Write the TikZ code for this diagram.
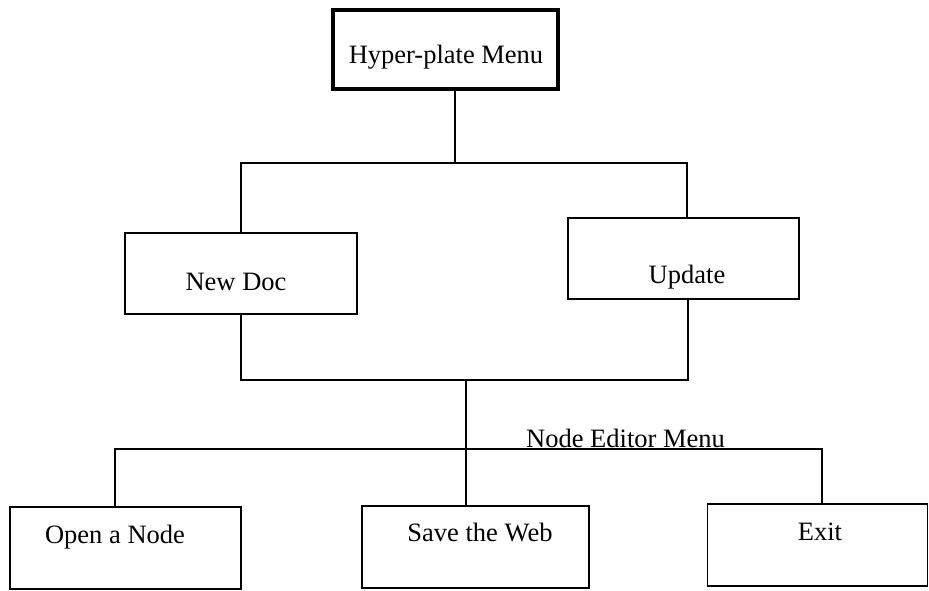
\documentclass[tikz,border=0pt]{standalone}
\usepackage{fontspec}
\setmainfont{Liberation Serif}
\begin{document}
\begin{tikzpicture}[x=1pt,y=-1pt,
  box/.style={draw, line width=1.8pt, inner sep=0pt},
  topbox/.style={draw, line width=4pt, inner sep=0pt},
  lbl/.style={font=\fontsize{26.5}{30}\selectfont, inner sep=0pt},
  conn/.style={line width=1.8pt}]
\useasboundingbox (0,0) rectangle (929,591);
% boxes
\node[topbox, minimum width=225pt, minimum height=79pt] (top) at (445.5,49.5) {};
\node[box, minimum width=232pt, minimum height=81pt] (nd) at (241,273.5) {};
\node[box, minimum width=231pt, minimum height=81pt] (ud) at (683.5,258.5) {};
\node[box, minimum width=231pt, minimum height=82pt] (on) at (125.5,548) {};
\node[box, minimum width=227pt, minimum height=82pt] (sw) at (475.5,547) {};
\node[box, minimum width=220pt, minimum height=82pt] (ex) at (817.5,545) {};
% texts
\node[lbl] (topt) at (446,57) {Hyper-plate Menu};
\node[lbl] (ndt) at (236,282) {New Doc};
\node[lbl] (udt) at (687,277) {Update};
\node[lbl] (ont) at (115,537) {Open a Node};
\node[lbl] (swt) at (480,533) {Save the Web};
\node[lbl] (ext) at (820,532) {Exit};
\node[lbl, anchor=base west] (nem) at (526,447.5) {Node Editor Menu};
% junctions
\coordinate (a) at (455,163);
\coordinate (ar) at (687,163);
\coordinate (b) at (466,380);
\coordinate (br) at (688,380);
\coordinate (cl) at (115,449);
\coordinate (cr) at (822,449);
% connectors
\draw[conn] (top.south -| a) -- (a);
\draw[conn] (nd.north) |- (ar) -- (ud.north -| ar);
\draw[conn] (nd.south) |- (br) -- (ud.south -| br);
\draw[conn] (b) -- (b |- sw.north);
\draw[conn] (on.north -| cl) -- (cl) -- (cr) -- (ex.north -| cr);
\end{tikzpicture}
\end{document}
